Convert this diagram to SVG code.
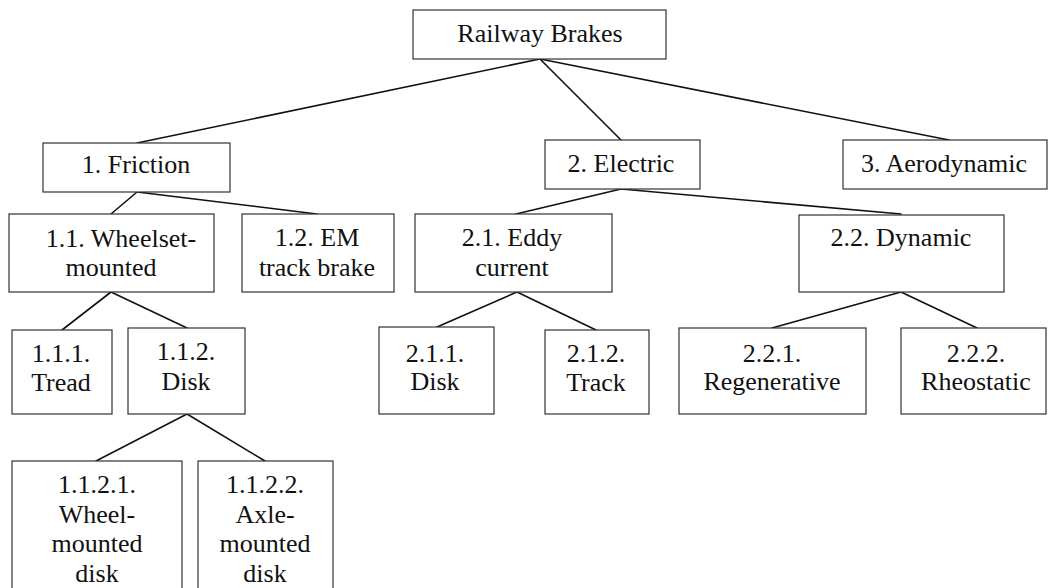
<svg xmlns="http://www.w3.org/2000/svg" width="1048" height="588" viewBox="0 0 1048 588">
  <rect width="1048" height="588" fill="#ffffff"/>

  <!-- tree connectors: shared stroke set on the group -->
  <g id="connectors" stroke="#111111" stroke-width="1.6" stroke-linecap="round" fill="none">
    <line x1="540" y1="59" x2="137" y2="143"/>
    <line x1="540" y1="59" x2="621" y2="140"/>
    <line x1="540" y1="59" x2="949" y2="140"/>
    <line x1="137" y1="192" x2="111" y2="214"/>
    <line x1="137" y1="192" x2="317" y2="214"/>
    <line x1="621" y1="189" x2="516" y2="214"/>
    <line x1="621" y1="189" x2="901" y2="214"/>
    <line x1="111" y1="292" x2="62" y2="330"/>
    <line x1="111" y1="292" x2="187" y2="328"/>
    <line x1="517" y1="292" x2="437" y2="327"/>
    <line x1="517" y1="292" x2="596" y2="330"/>
    <line x1="901" y1="292" x2="772" y2="328"/>
    <line x1="901" y1="292" x2="977" y2="328"/>
    <line x1="187" y1="414" x2="96" y2="461"/>
    <line x1="187" y1="414" x2="265" y2="461"/>
  </g>

  <!-- nodes: box outline and label anchor shared on the group -->
  <g id="nodes" fill="#ffffff" stroke="#333333" stroke-width="1.2" text-anchor="middle">
    <g id="root">
      <rect x="413" y="10" width="253" height="49"/>
      <text font-family="Liberation Serif, serif" font-size="26" fill="#111111" stroke="none" x="540" y="42">Railway Brakes</text>
    </g>

    <g id="friction">
      <rect x="43" y="143" width="187" height="49"/>
      <text font-family="Liberation Serif, serif" font-size="26" fill="#111111" stroke="none" x="136" y="173">1. Friction</text>
    </g>

    <g id="electric">
      <rect x="545" y="140" width="155" height="49"/>
      <text font-family="Liberation Serif, serif" font-size="26" fill="#111111" stroke="none" x="621" y="172">2. Electric</text>
    </g>

    <g id="aerodynamic">
      <rect x="843" y="140" width="204" height="49"/>
      <text font-family="Liberation Serif, serif" font-size="26" fill="#111111" stroke="none" x="944" y="172">3. Aerodynamic</text>
    </g>

    <g id="wheelset-mounted">
      <rect x="9" y="214" width="205" height="78"/>
      <text font-family="Liberation Serif, serif" font-size="26" fill="#111111" stroke="none" x="121" y="247">1.1. Wheelset-</text>
      <text font-family="Liberation Serif, serif" font-size="26" fill="#111111" stroke="none" x="111" y="276">mounted</text>
    </g>

    <g id="em-track-brake">
      <rect x="242" y="214" width="152" height="78"/>
      <text font-family="Liberation Serif, serif" font-size="26" fill="#111111" stroke="none" x="317" y="246">1.2. EM</text>
      <text font-family="Liberation Serif, serif" font-size="26" fill="#111111" stroke="none" x="317" y="276">track brake</text>
    </g>

    <g id="eddy-current">
      <rect x="415" y="214" width="197" height="78"/>
      <text font-family="Liberation Serif, serif" font-size="26" fill="#111111" stroke="none" x="512" y="246">2.1. Eddy</text>
      <text font-family="Liberation Serif, serif" font-size="26" fill="#111111" stroke="none" x="512" y="276">current</text>
    </g>

    <g id="dynamic">
      <rect x="799" y="215" width="205" height="77"/>
      <text font-family="Liberation Serif, serif" font-size="26" fill="#111111" stroke="none" x="901" y="246">2.2. Dynamic</text>
    </g>

    <g id="tread">
      <rect x="12" y="330" width="100" height="84"/>
      <text font-family="Liberation Serif, serif" font-size="26" fill="#111111" stroke="none" x="61" y="362">1.1.1.</text>
      <text font-family="Liberation Serif, serif" font-size="26" fill="#111111" stroke="none" x="61" y="391">Tread</text>
    </g>

    <g id="disk-friction">
      <rect x="128" y="328" width="117" height="86"/>
      <text font-family="Liberation Serif, serif" font-size="26" fill="#111111" stroke="none" x="186" y="360">1.1.2.</text>
      <text font-family="Liberation Serif, serif" font-size="26" fill="#111111" stroke="none" x="186" y="390">Disk</text>
    </g>

    <g id="disk-eddy">
      <rect x="379" y="327" width="115" height="87"/>
      <text font-family="Liberation Serif, serif" font-size="26" fill="#111111" stroke="none" x="435" y="362">2.1.1.</text>
      <text font-family="Liberation Serif, serif" font-size="26" fill="#111111" stroke="none" x="435" y="390">Disk</text>
    </g>

    <g id="track">
      <rect x="545" y="330" width="104" height="84"/>
      <text font-family="Liberation Serif, serif" font-size="26" fill="#111111" stroke="none" x="596" y="362">2.1.2.</text>
      <text font-family="Liberation Serif, serif" font-size="26" fill="#111111" stroke="none" x="596" y="391">Track</text>
    </g>

    <g id="regenerative">
      <rect x="679" y="328" width="187" height="86"/>
      <text font-family="Liberation Serif, serif" font-size="26" fill="#111111" stroke="none" x="772" y="362">2.2.1.</text>
      <text font-family="Liberation Serif, serif" font-size="26" fill="#111111" stroke="none" x="772" y="390">Regenerative</text>
    </g>

    <g id="rheostatic">
      <rect x="901" y="328" width="145" height="86"/>
      <text font-family="Liberation Serif, serif" font-size="26" fill="#111111" stroke="none" x="976" y="362">2.2.2.</text>
      <text font-family="Liberation Serif, serif" font-size="26" fill="#111111" stroke="none" x="976" y="390">Rheostatic</text>
    </g>

    <g id="wheel-mounted-disk">
      <rect x="12" y="461" width="170" height="140"/>
      <text font-family="Liberation Serif, serif" font-size="26" fill="#111111" stroke="none" x="97" y="493">1.1.2.1.</text>
      <text font-family="Liberation Serif, serif" font-size="26" fill="#111111" stroke="none" x="97" y="523">Wheel-</text>
      <text font-family="Liberation Serif, serif" font-size="26" fill="#111111" stroke="none" x="97" y="552">mounted</text>
      <text font-family="Liberation Serif, serif" font-size="26" fill="#111111" stroke="none" x="97" y="582">disk</text>
    </g>

    <g id="axle-mounted-disk">
      <rect x="198" y="461" width="135" height="140"/>
      <text font-family="Liberation Serif, serif" font-size="26" fill="#111111" stroke="none" x="265" y="493">1.1.2.2.</text>
      <text font-family="Liberation Serif, serif" font-size="26" fill="#111111" stroke="none" x="265" y="523">Axle-</text>
      <text font-family="Liberation Serif, serif" font-size="26" fill="#111111" stroke="none" x="265" y="552">mounted</text>
      <text font-family="Liberation Serif, serif" font-size="26" fill="#111111" stroke="none" x="265" y="582">disk</text>
    </g>
  </g>
</svg>
